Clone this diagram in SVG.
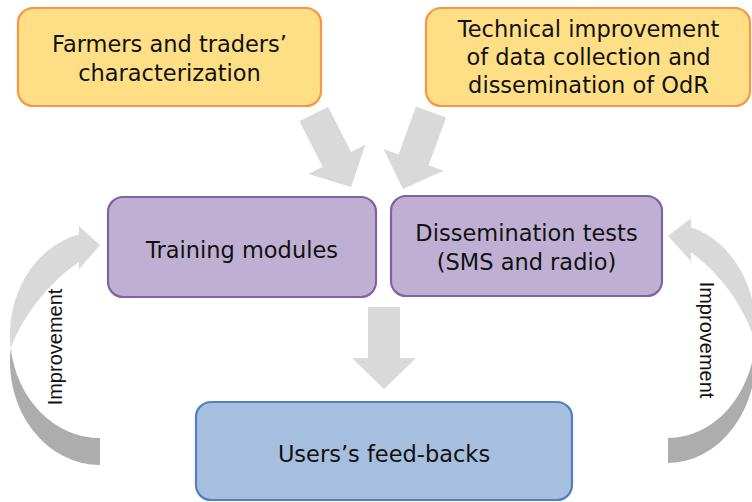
<svg xmlns="http://www.w3.org/2000/svg" xmlns:xlink="http://www.w3.org/1999/xlink" width="752" height="502" viewBox="0 0 752 502">
<style>
.t{font-family:"DejaVu Sans","Liberation Sans",sans-serif;font-size:22.5px;fill:#111;text-anchor:middle}
.lbl{font-family:"Liberation Sans",Arial,sans-serif;font-size:20px;fill:#111;text-anchor:middle}
.y{fill:#FFDF85;stroke:#F79646;stroke-width:2.2}
.p{fill:#BFB0D3;stroke:#8064A2;stroke-width:2.2}
.b{fill:#A7BFDE;stroke:#4F81BD;stroke-width:2.2}
.ar{fill:#D9D9D9}
.dk{fill:#ADADAD}
</style>
<defs>
<polygon id="arr" points="-16,-82 16,-82 16,-31 32,-31 0,0 -32,-31 -16,-31"/>
</defs>
<g id="connectors">
<use xlink:href="#arr" href="#arr" class="ar" transform="translate(351,187) rotate(-27)"/>
<use xlink:href="#arr" href="#arr" class="ar" transform="translate(403,189) rotate(20)"/>
<use xlink:href="#arr" href="#arr" class="ar" transform="translate(384,389)"/>
<g id="loop-left">
<path class="dk" d="M100 438 A90 103.25 0 0 1 10.77 348.25 A90 103.25 0 0 0 100 465 Z"/>
<path class="ar" d="M10.77 348.25 C25 310 55 278 79 262 L79 269.35 L100 245 L79 226.35 L79 234.35 A90 103.25 0 0 0 10.77 348.25 Z"/>
<text class="lbl" transform="translate(62,347) rotate(-90)">Improvement</text>
</g>
<g id="loop-right">
<path class="dk" d="M668 438 A88 107.25 0 0 0 755.4 343.25 A88 107.25 0 0 1 668 463 Z"/>
<path class="ar" d="M755.4 343.25 C743 300 713 268 691 252.23 L691 261.23 L668 236 L691 218.23 L691 227.23 A88 107.25 0 0 1 755.4 343.25 Z"/>
<text class="lbl" transform="translate(700,340) rotate(90)">Improvement</text>
</g>
</g>
<g id="farmers">
<rect class="y" x="18" y="8" width="303" height="98" rx="15"/>
<text class="t" x="169.5" y="52">Farmers and traders’</text>
<text class="t" x="169.5" y="81">characterization</text>
</g>
<g id="technical">
<rect class="y" x="426" y="8" width="324" height="98" rx="15"/>
<text class="t" x="588.5" y="37">Technical improvement</text>
<text class="t" x="588.5" y="65">of data collection and</text>
<text class="t" x="588.5" y="93">dissemination of OdR</text>
</g>
<g id="training">
<rect class="p" x="108" y="197" width="268" height="100" rx="15"/>
<text class="t" x="242" y="258">Training modules</text>
</g>
<g id="dissemination">
<rect class="p" x="391" y="196" width="271" height="100" rx="15"/>
<text class="t" x="526.5" y="241">Dissemination tests</text>
<text class="t" x="526.5" y="270">(SMS and radio)</text>
</g>
<g id="feedback">
<rect class="b" x="196" y="402" width="376" height="98" rx="15"/>
<text class="t" x="384" y="462">Users’s feed-backs</text>
</g>
</svg>
